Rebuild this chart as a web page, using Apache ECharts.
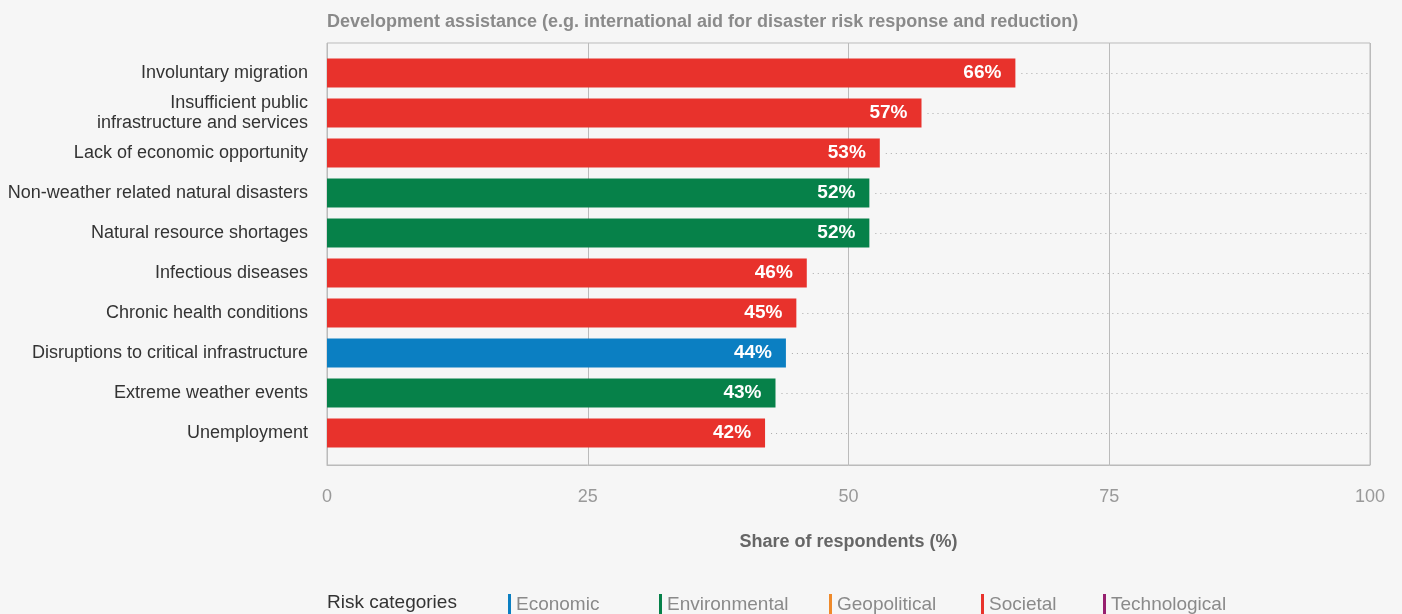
<!DOCTYPE html>
<html>
<head>
<meta charset="utf-8">
<script src="https://cdn.jsdelivr.net/npm/echarts@6/dist/echarts.min.js"></script>
<style>
html,body{margin:0;padding:0;background:#f6f6f6;}
#c{width:1402px;height:614px;}
</style>
</head>
<body>
<div id="c"></div>
<script>
var categories = [
  'Involuntary migration',
  'Insufficient public\ninfrastructure and services',
  'Lack of economic opportunity',
  'Non-weather related natural disasters',
  'Natural resource shortages',
  'Infectious diseases',
  'Chronic health conditions',
  'Disruptions to critical infrastructure',
  'Extreme weather events',
  'Unemployment'
];
var values = [66, 57, 53, 52, 52, 46, 45, 44, 43, 42];
var riskGroup = ['Societal','Societal','Societal','Environmental','Environmental','Societal','Societal','Economic','Environmental','Societal'];
var groupNames = ['Economic','Environmental','Geopolitical','Societal','Technological'];
var groupColors = ['#0b7fc2','#068149','#ef8a2b','#e8322c','#971f6f'];
var xTicks = [0, 25, 50, 75, 100];

var FONT = '"Liberation Sans", Arial, Helvetica, sans-serif';
var legendLefts = [503, 654, 824, 976, 1098];

var barSeries = groupNames.map(function (g, gi) {
  return {
    name: g,
    type: 'bar',
    xAxisIndex: 1, yAxisIndex: 1,
    barWidth: 29,
    barGap: '-100%',
    itemStyle: { color: groupColors[gi] },
    label: {
      show: true,
      position: 'insideRight',
      distance: 14,
      color: '#fff',
      fontWeight: 'bold',
      fontSize: 19,
      fontFamily: FONT,
      formatter: function (p) { return p.value + '%'; }
    },
    z: 3,
    data: values.map(function (v, i) { return riskGroup[i] === g ? v : '-'; })
  };
});

var dotted = {
  type: 'custom',
  silent: true,
  xAxisIndex: 1, yAxisIndex: 1,
  z: 1,
  data: values.map(function (v, i) { return [v, i]; }),
  renderItem: function (params, api) {
    var s = api.coord([api.value(0), api.value(1)]);
    var e = api.coord([xTicks[xTicks.length - 1], api.value(1)]);
    return {
      type: 'line',
      shape: { x1: s[0] + 6, y1: Math.round(s[1]) + 0.5, x2: e[0], y2: Math.round(e[1]) + 0.5 },
      style: { stroke: '#aaaaaa', lineWidth: 1, lineDash: [1, 4] }
    };
  }
};

var legends = groupNames.map(function (g, gi) {
  return {
    data: [g],
    left: legendLefts[gi], top: 589,
    icon: 'rect', itemWidth: 3, itemHeight: 22, itemGap: 0,
    selectedMode: false,
    textStyle: { color: '#8a8a8a', fontSize: 19, fontFamily: FONT }
  };
});

var chart = echarts.init(document.getElementById('c'));
chart.setOption({
  backgroundColor: '#f6f6f6',
  animation: false,
  textStyle: { fontFamily: FONT },
  title: {
    text: 'Development assistance (e.g. international aid for disaster risk response and reduction)',
    left: 322, top: 8,
    textStyle: { color: '#8a8a8a', fontSize: 18, fontWeight: 'bold', fontFamily: FONT }
  },
  grid: [
    { left: 327, right: 32, top: 43, bottom: 149,
      show: true, borderColor: '#bbbbbb', borderWidth: 1, backgroundColor: 'transparent' },
    { left: 327, right: 32, top: 53, bottom: 161 }
  ],
  legend: legends,
  graphic: [{
    type: 'text', left: 327, top: 593,
    style: { text: 'Risk categories', fill: '#333', font: '19px ' + FONT }
  }],
  xAxis: [{
    gridIndex: 0,
    type: 'value', min: 0, max: 100, interval: 25,
    name: 'Share of respondents (%)', nameLocation: 'middle', nameGap: 68,
    nameTextStyle: { color: '#666', fontSize: 18, fontWeight: 'bold', fontFamily: FONT },
    axisLine: { show: true, lineStyle: { color: '#bbbbbb' } },
    axisTick: { show: false },
    axisLabel: { color: '#999', fontSize: 18, margin: 23, fontFamily: FONT },
    splitLine: { show: true, lineStyle: { color: '#bbbbbb' } }
  }, {
    gridIndex: 1,
    type: 'value', min: 0, max: 100, interval: 25, show: false,
    splitLine: { show: false }
  }],
  yAxis: [{
    gridIndex: 0, type: 'value', show: false, splitLine: { show: false }
  }, {
    gridIndex: 1,
    type: 'category', data: categories, inverse: true,
    axisLine: { show: false }, axisTick: { show: false },
    axisLabel: { color: '#333', fontSize: 18, margin: 19, lineHeight: 20, fontFamily: FONT },
    splitLine: { show: false }
  }],
  series: barSeries.concat([dotted])
});
</script>
</body>
</html>
